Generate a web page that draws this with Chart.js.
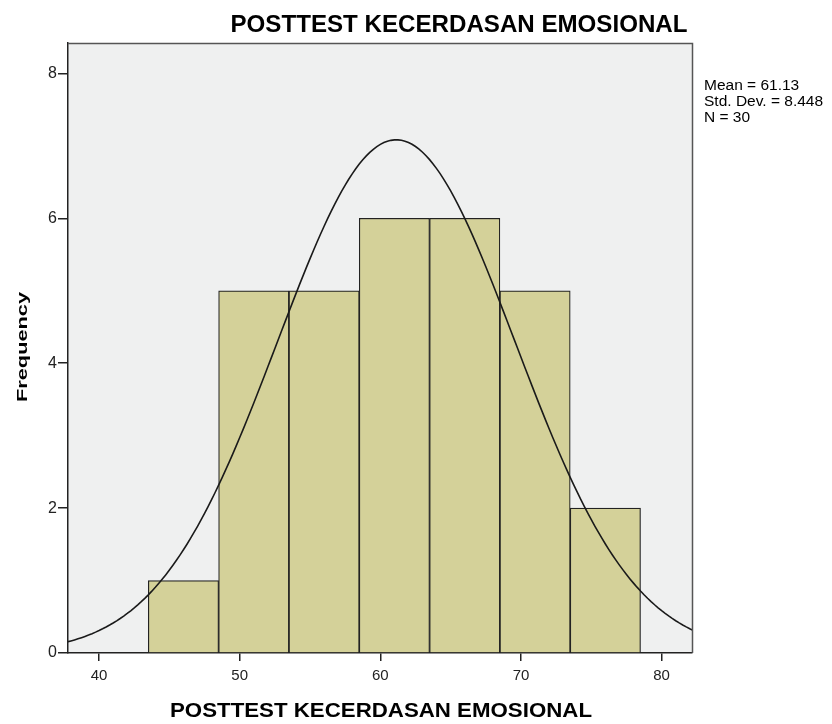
<!DOCTYPE html>
<html>
<head>
<meta charset="utf-8">
<script src="https://cdn.jsdelivr.net/npm/chart.js@4.4.0/dist/chart.umd.min.js"></script>
<style>
  html, body { margin: 0; padding: 0; background: #ffffff; }
  #wrap { width: 832px; height: 724px; position: relative; }
</style>
</head>
<body>
<div id="wrap"><canvas id="chart" width="832" height="724"></canvas></div>
<script>
// histogram data
const binCenters = [46, 51, 56, 61, 66, 71, 76];
const frequencies = [1, 5, 5, 6, 6, 5, 2];
const xTicks = [40, 50, 60, 70, 80];
const yTicks = [0, 2, 4, 6, 8];

// summary stats shown at the right
const meanValue = 61.13;
const stdDev = 8.448;
const nCount = 30;
const binWidth = 5;

const chartTitle = 'POSTTEST KECERDASAN EMOSIONAL';
const xTitle = 'POSTTEST KECERDASAN EMOSIONAL';
const yTitle = 'Frequency';
const statLines = ['Mean = 61.13', 'Std. Dev. = 8.448', 'N = 30'];

const X_MIN = 37.79, X_MAX = 82.16;
const FONT = '"Liberation Sans", Arial, sans-serif';

// fitted normal curve scaled to counts (what SPSS overlays)
const curvePoints = [];
for (let x = 34; x <= 86; x += 0.25) {
  const z = (x - meanValue) / stdDev;
  const y = nCount * binWidth / (stdDev * Math.sqrt(2 * Math.PI)) * Math.exp(-0.5 * z * z);
  curvePoints.push({ x: x, y: y });
}

// draw text squeezed/stretched to a given width
function fitText(ctx, text, cx, y, width, font) {
  ctx.save();
  ctx.font = font;
  const w = ctx.measureText(text).width;
  ctx.translate(cx, y);
  ctx.scale(width / w, 1);
  ctx.textAlign = 'center';
  ctx.fillText(text, 0, 0);
  ctx.restore();
}

const extras = {
  id: 'extras',
  beforeDraw(chart) {
    const { ctx, chartArea: a } = chart;
    ctx.save();
    ctx.fillStyle = '#eff0f0';
    ctx.fillRect(a.left, a.top, a.right - a.left, a.bottom - a.top);
    ctx.restore();
  },
  afterDraw(chart) {
    const { ctx, chartArea: a } = chart;
    ctx.save();
    // top and right frame
    ctx.strokeStyle = '#555';
    ctx.lineWidth = 1.5;
    ctx.beginPath();
    ctx.moveTo(a.left, a.top + 0.5);
    ctx.lineTo(a.right + 0.5, a.top + 0.5);
    ctx.lineTo(a.right + 0.5, a.bottom);
    ctx.stroke();

    ctx.fillStyle = '#000';
    ctx.textBaseline = 'alphabetic';
    fitText(ctx, chartTitle, 459, 32, 457, 'bold 24px ' + FONT);
    fitText(ctx, xTitle, 381, 717, 422, 'bold 21px ' + FONT);

    // rotated y title
    ctx.save();
    ctx.translate(27, 347);
    ctx.rotate(-Math.PI / 2);
    fitText(ctx, yTitle, 0, 0, 110, 'bold 15px ' + FONT);
    ctx.restore();

    ctx.font = '15.5px ' + FONT;
    ctx.textAlign = 'left';
    statLines.forEach((s, i) => ctx.fillText(s, 704, 89.5 + i * 16));
    ctx.restore();
  }
};

const ctx = document.getElementById('chart').getContext('2d');
new Chart(ctx, {
  type: 'bar',
  data: {
    datasets: [
      {
        type: 'line',
        data: curvePoints,
        borderColor: '#1a1a1a',
        borderWidth: 1.6,
        pointRadius: 0,
        tension: 0,
        fill: false,
        order: 0
      },
      {
        type: 'bar',
        data: binCenters.map((c, i) => ({ x: c, y: frequencies[i] })),
        backgroundColor: '#d4d199',
        borderColor: '#222',
        borderWidth: 1.2,
        barPercentage: 1,
        categoryPercentage: 1,
        order: 1
      }
    ]
  },
  options: {
    responsive: false,
    animation: false,
    layout: { padding: { top: 43, right: 140, left: 0, bottom: 0 } },
    plugins: { legend: { display: false }, tooltip: { enabled: false } },
    scales: {
      x: {
        type: 'linear',
        offset: false,
        min: X_MIN,
        max: X_MAX,
        afterBuildTicks: (s) => { s.ticks = xTicks.map(v => ({ value: v })); },
        afterFit: (s) => { s.height = 71; },
        ticks: {
          color: '#222',
          font: { family: FONT, size: 15 },
          padding: 6,
          maxRotation: 0
        },
        grid: { offset: false, drawOnChartArea: false, drawTicks: true, tickLength: 8, color: '#222', lineWidth: 1.5 },
        border: { color: '#222', width: 1.5 },
        title: { display: false }
      },
      y: {
        type: 'linear',
        min: 0,
        max: 8.42,
        afterBuildTicks: (s) => { s.ticks = yTicks.map(v => ({ value: v })); },
        afterFit: (s) => { s.width = 68; },
        ticks: {
          color: '#222',
          font: { family: FONT, size: 16 },
          padding: 1
        },
        grid: { drawOnChartArea: false, drawTicks: true, tickLength: 10, color: '#222', lineWidth: 1.5 },
        border: { color: '#222', width: 1.5 },
        title: { display: false }
      }
    }
  },
  plugins: [extras]
});
</script>
</body>
</html>
